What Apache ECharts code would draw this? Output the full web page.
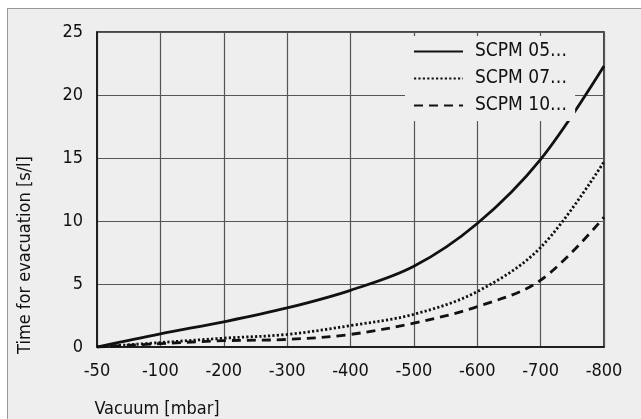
<!DOCTYPE html>
<html>
<head>
<meta charset="utf-8">
<script src="https://cdn.jsdelivr.net/npm/echarts@6/dist/echarts.min.js"></script>
<style>html,body{margin:0;padding:0;background:#fff}#c{width:641px;height:419px}</style>
</head>
<body>
<div id="c"></div>
<script>
const categories = ['-50', '-100', '-200', '-300', '-400', '-500', '-600', '-700', '-800'];
const scpm05 = [0, 1.05, 2.0, 3.1, 4.5, 6.4, 9.8, 14.9, 22.3];
const scpm07 = [0, 0.35, 0.7, 1.0, 1.7, 2.6, 4.4, 7.9, 14.7];
const scpm10 = [0, 0.27, 0.5, 0.6, 1.0, 1.9, 3.2, 5.3, 10.3];
const seriesNames = ['SCPM 05…', 'SCPM 07…', 'SCPM 10…'];
const yTicks = { min: 0, max: 25, interval: 5 };
const xTitle = 'Vacuum [mbar]';
const yTitle = 'Time for evacuation [s/l]';

const FONT = '"DejaVu Sans Condensed", "DejaVu Sans", sans-serif';
const chart = echarts.init(document.getElementById('c'), null, { renderer: 'canvas' });

function lineSeries(name, data, type, width) {
  return {
    name: name, type: 'line', data: data, smooth: 0.35,
    symbol: 'none', showSymbol: false, silent: true,
    lineStyle: { color: '#111', width: width, type: type, cap: 'butt' },
    itemStyle: { color: '#111' }
  };
}

chart.setOption({
  backgroundColor: '#eeeeee',
  animation: false,
  textStyle: { fontFamily: FONT },
  grid: {
    left: 97, right: 37, top: 32, bottom: 72,
    show: true, borderColor: '#111', borderWidth: 1.5, backgroundColor: 'transparent'
  },
  legend: {
    orient: 'vertical', left: 405, top: 36,
    padding: [6, 8, 6, 8], itemGap: 8,
    itemWidth: 49, itemHeight: 14,
    backgroundColor: '#eeeeee',
    itemStyle: { opacity: 0, borderWidth: 0 },
    data: seriesNames,
    textStyle: { fontFamily: FONT, fontSize: 19, color: '#111', padding: [0, 0, 0, 7] }
  },
  xAxis: {
    type: 'category', data: categories, boundaryGap: false,
    axisLine: { lineStyle: { color: '#111', width: 1.5 } },
    axisTick: { show: false },
    axisLabel: { color: '#111', fontSize: 18, margin: 15, fontFamily: FONT },
    splitLine: { show: true, lineStyle: { color: '#555', width: 1.2 } }
  },
  yAxis: {
    type: 'value', min: yTicks.min, max: yTicks.max, interval: yTicks.interval,
    axisLine: { show: true, lineStyle: { color: '#111', width: 1.5 } },
    axisTick: { show: false },
    axisLabel: { color: '#111', fontSize: 18, margin: 14, fontFamily: FONT },
    splitLine: { show: true, lineStyle: { color: '#555', width: 1.2 } }
  },
  graphic: [
    { type: 'rect', shape: { x: 0, y: 0, width: 641, height: 8 }, style: { fill: '#fff' }, silent: true },
    { type: 'rect', shape: { x: 0, y: 0, width: 7, height: 419 }, style: { fill: '#fff' }, silent: true },
    { type: 'line', shape: { x1: 7, y1: 8.5, x2: 641, y2: 8.5 }, style: { stroke: '#999', lineWidth: 1 }, silent: true },
    { type: 'line', shape: { x1: 7.5, y1: 8, x2: 7.5, y2: 419 }, style: { stroke: '#999', lineWidth: 1 }, silent: true },
    { type: 'text', x: 157, y: 409, style: { text: xTitle, fontFamily: FONT, fontSize: 18, fill: '#111', align: 'center', verticalAlign: 'middle' } },
    { type: 'text', x: 25, y: 255, rotation: Math.PI / 2, style: { text: yTitle, fontFamily: FONT, fontSize: 18, fill: '#111', align: 'center', verticalAlign: 'middle' } }
  ],
  series: [
    lineSeries(seriesNames[0], scpm05, 'solid', 2.8),
    lineSeries(seriesNames[1], scpm07, [2.2, 2.2], 2.8),
    lineSeries(seriesNames[2], scpm10, [9, 6], 2.8)
  ]
});
</script>
</body>
</html>
